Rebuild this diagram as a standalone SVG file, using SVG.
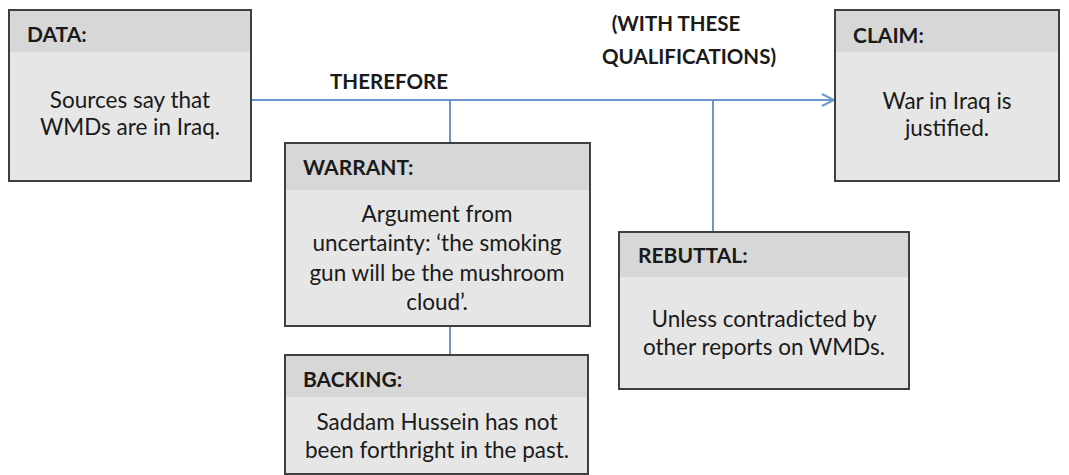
<svg xmlns="http://www.w3.org/2000/svg" width="1069" height="475" viewBox="0 0 1069 475">
<style>
.box{fill:#e6e6e6;stroke:#3f3f3f;stroke-width:2}
.hdr{fill:#d7d7d7}
.h{font-family:Lato,"Liberation Sans",sans-serif;font-weight:bold;font-size:21px;fill:#1a1a1a}
.t{font-family:Lato,"Liberation Sans",sans-serif;font-size:22.5px;fill:#1a1a1a;text-anchor:middle}
.lbl{font-family:Lato,"Liberation Sans",sans-serif;font-weight:bold;font-size:20.5px;fill:#1a1a1a}
.ln{stroke:#6b97cf;stroke-width:2;fill:none}
</style>
<defs>
<marker id="arr" markerWidth="14" markerHeight="14" refX="13" refY="7" orient="auto" markerUnits="userSpaceOnUse">
<path d="M1,1 L13,7 L1,13" fill="none" stroke="#6b97cf" stroke-width="2"/>
</marker>
</defs>
<rect width="1069" height="475" fill="#fff"/>
<g id="connectors">
<line class="ln" x1="251" y1="100" x2="834" y2="100" marker-end="url(#arr)"/>
<line class="ln" x1="450" y1="100" x2="450" y2="143"/>
<line class="ln" x1="713" y1="100" x2="713" y2="232"/>
<line class="ln" x1="450" y1="326" x2="450" y2="355"/>
<text class="lbl" x="389" y="89" text-anchor="middle">THEREFORE</text>
<text class="lbl" x="676" y="31" text-anchor="middle">(WITH THESE</text>
<text class="lbl" x="689" y="64" text-anchor="middle">QUALIFICATIONS)</text>
</g>
<g id="data">
<rect class="box" x="9" y="10" width="242" height="171"/>
<rect class="hdr" x="10" y="11" width="240" height="41"/>
<text class="h" x="27" y="42">DATA:</text>
<text class="t" x="130" y="108">Sources say that</text>
<text class="t" x="130" y="135">WMDs are in Iraq.</text>
</g>
<g id="claim">
<rect class="box" x="835" y="10" width="224" height="171"/>
<rect class="hdr" x="836" y="11" width="222" height="41"/>
<text class="h" x="853" y="43">CLAIM:</text>
<text class="t" x="947" y="109">War in Iraq is</text>
<text class="t" x="947" y="136">justified.</text>
</g>
<g id="warrant">
<rect class="box" x="285" y="143" width="305" height="183"/>
<rect class="hdr" x="286" y="144" width="303" height="46"/>
<text class="h" x="303" y="175">WARRANT:</text>
<text class="t" x="437" y="222">Argument from</text>
<text class="t" x="437" y="251">uncertainty: ‘the smoking</text>
<text class="t" x="437" y="281">gun will be the mushroom</text>
<text class="t" x="437" y="310">cloud’.</text>
</g>
<g id="rebuttal">
<rect class="box" x="619" y="232" width="290" height="157"/>
<rect class="hdr" x="620" y="233" width="288" height="44"/>
<text class="h" x="638" y="263">REBUTTAL:</text>
<text class="t" x="764" y="327">Unless contradicted by</text>
<text class="t" x="764" y="355">other reports on WMDs.</text>
</g>
<g id="backing">
<rect class="box" x="285" y="355" width="303" height="119"/>
<rect class="hdr" x="286" y="356" width="301" height="41"/>
<text class="h" x="303" y="387">BACKING:</text>
<text class="t" x="437" y="430">Saddam Hussein has not</text>
<text class="t" x="437" y="458">been forthright in the past.</text>
</g>
</svg>
